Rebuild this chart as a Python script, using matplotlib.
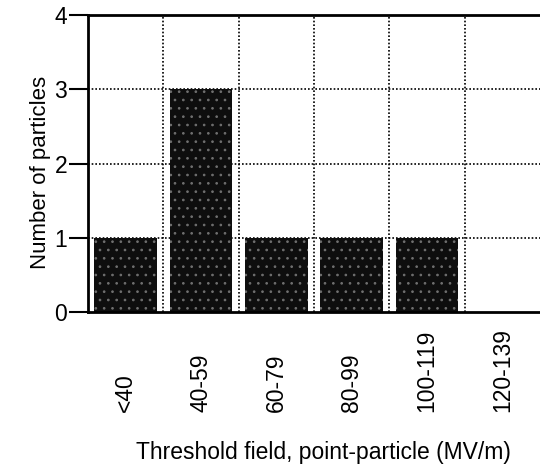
import numpy as np
import matplotlib
matplotlib.use("Agg")
import matplotlib.pyplot as plt

plt.rcParams['font.family'] = ['Liberation Sans', 'DejaVu Sans']
plt.rcParams['hatch.color'] = '#707070'
plt.rcParams['hatch.linewidth'] = 0.7

# threshold field bins and particle counts
bins = ['<40', '40-59', '60-79', '80-99', '100-119', '120-139']
counts = [1, 3, 1, 1, 1, 0]
y_ticks = [0, 1, 2, 3, 4]

fig = plt.figure(figsize=(5.4, 4.68), dpi=100)
ax = fig.add_axes([0.163, 0.333, 0.837, 0.635])

x = np.arange(len(bins)) + 0.5
ax.bar(x, counts, width=0.83, color='#0e0e0e', edgecolor='#707070',
       linewidth=0, hatch='..', zorder=2)

ax.set_xlim(0, len(bins))
ax.set_ylim(0, 4)

# dotted grid on the bin boundaries
for gx in range(1, len(bins)):
    ax.axvline(gx, color='black', linestyle=(0, (1, 1.2)), linewidth=1.2, zorder=3)
for gy in y_ticks[1:-1]:
    ax.axhline(gy, color='black', linestyle=(0, (1, 1.2)), linewidth=1.2, zorder=1)

ax.set_yticks(y_ticks)
ax.set_yticklabels([str(v) for v in y_ticks])
ax.tick_params(axis='y', length=14, width=1.5, pad=1, labelsize=16.5)

ax.set_xticks(x)
ax.set_xticklabels(bins, rotation=90)
ax.tick_params(axis='x', length=0, pad=72, labelsize=16.5)
for lab in ax.get_xticklabels():
    lab.set_verticalalignment('bottom')

ax.spines['right'].set_visible(False)
for s in ['left', 'top', 'bottom']:
    ax.spines[s].set_linewidth(2)

ax.set_ylabel('Number of particles', fontsize=16)
ax.yaxis.set_label_coords(-0.106, 0.47)
ax.yaxis.label.set_verticalalignment('center')
ax.set_xlabel('Threshold field, point-particle (MV/m)', fontsize=16.5)
ax.xaxis.set_label_coords(0.52, -0.471)
ax.xaxis.label.set_verticalalignment('center')

fig.savefig('out.png', dpi=100)
